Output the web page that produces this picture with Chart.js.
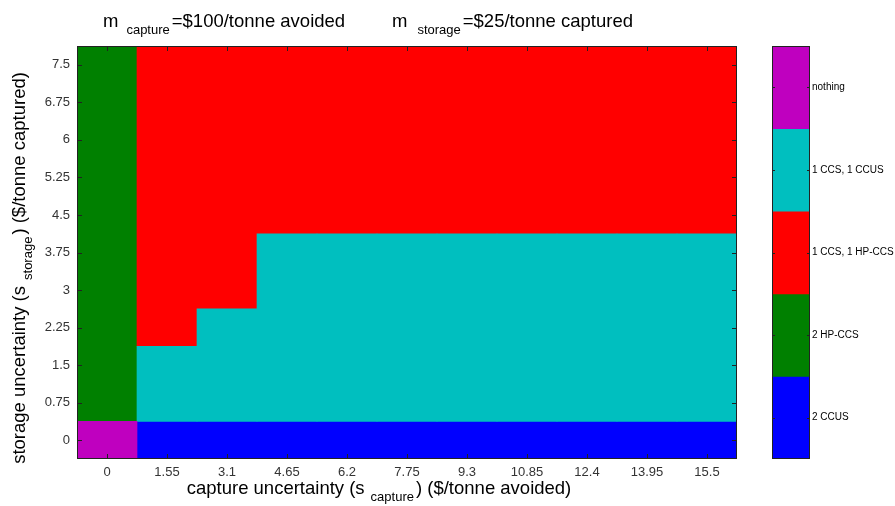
<!DOCTYPE html>
<html>
<head>
<meta charset="utf-8">
<script src="https://cdn.jsdelivr.net/npm/chart.js"></script>
<style>
body { margin: 0; background: #fff; }
#wrap { position: relative; width: 895px; height: 506px; }
#main-chart { position: absolute; left: 0; top: 0; }
#bar-chart { position: absolute; left: 760px; top: 0; }
</style>
</head>
<body>
<div id="wrap">
    <canvas id="main-chart" width="895" height="506"></canvas>
    <canvas id="bar-chart" width="135" height="506"></canvas>
</div>
<script>
// Axis values
const captureValues = [0, 1.55, 3.1, 4.65, 6.2, 7.75, 9.3, 10.85, 12.4, 13.95, 15.5];
const storageValues = [0, 0.75, 1.5, 2.25, 3, 3.75, 4.5, 5.25, 6, 6.75, 7.5];

// Options shown in the colour bar (top to bottom)
const optionNames = ['nothing', '1 CCS, 1 CCUS', '1 CCS, 1 HP-CCS', '2 HP-CCS', '2 CCUS'];
const optionColors = ['#bf00bf', '#00bfbf', '#ff0000', '#008000', '#0000ff'];

// Best option per cell: one row per storage value (from 0 up), one column per capture value
const bestOption = [
    [0, 4, 4, 4, 4, 4, 4, 4, 4, 4, 4],
    [3, 1, 1, 1, 1, 1, 1, 1, 1, 1, 1],
    [3, 1, 1, 1, 1, 1, 1, 1, 1, 1, 1],
    [3, 2, 1, 1, 1, 1, 1, 1, 1, 1, 1],
    [3, 2, 2, 1, 1, 1, 1, 1, 1, 1, 1],
    [3, 2, 2, 1, 1, 1, 1, 1, 1, 1, 1],
    [3, 2, 2, 2, 2, 2, 2, 2, 2, 2, 2],
    [3, 2, 2, 2, 2, 2, 2, 2, 2, 2, 2],
    [3, 2, 2, 2, 2, 2, 2, 2, 2, 2, 2],
    [3, 2, 2, 2, 2, 2, 2, 2, 2, 2, 2],
    [3, 2, 2, 2, 2, 2, 2, 2, 2, 2, 2]
];

const FONT = '"Liberation Sans", Arial, sans-serif';
Chart.defaults.font.family = FONT;

// Draw a run of text pieces with sub-scripts: [text, size, shiftDown, gapAfter]
function drawRich(ctx, x, y, parts) {
    let cx = x;
    parts.forEach(([text, size, dy, gap]) => {
        ctx.font = `${size}px ${FONT}`;
        ctx.fillText(text, cx, y + dy);
        cx += ctx.measureText(text).width + (gap || 0);
    });
    return cx - x;
}

function richWidth(ctx, parts) {
    let w = 0;
    parts.forEach(([text, size, dy, gap]) => {
        ctx.font = `${size}px ${FONT}`;
        w += ctx.measureText(text).width + (gap || 0);
    });
    return w;
}

// Box round the plot and short ticks pointing inwards
function framePlugin(tickX, tickLen) {
    return {
        id: 'frame',
        afterDatasetsDraw(chart) {
            const { ctx, chartArea: a, scales } = chart;
            ctx.save();
            ctx.strokeStyle = '#222';
            ctx.lineWidth = 1;
            ctx.beginPath();
            if (tickX) {
                scales.x.ticks.forEach((t, i) => {
                    const px = Math.round(scales.x.getPixelForTick(i)) + 0.5;
                    ctx.moveTo(px, a.bottom); ctx.lineTo(px, a.bottom - tickLen);
                    ctx.moveTo(px, a.top); ctx.lineTo(px, a.top + tickLen);
                });
            }
            scales.y.ticks.forEach((t, i) => {
                const py = Math.round(scales.y.getPixelForTick(i)) + 0.5;
                ctx.moveTo(a.left, py); ctx.lineTo(a.left + tickLen, py);
                ctx.moveTo(a.right, py); ctx.lineTo(a.right - tickLen, py);
            });
            ctx.stroke();
            ctx.strokeRect(a.left + 0.5, a.top + 0.5, a.width - 1, a.height - 1);
            ctx.restore();
        }
    };
}

// Title and axis titles with sub-scripts
const labelsPlugin = {
    id: 'labels',
    afterDraw(chart) {
        const ctx = chart.ctx;
        ctx.save();
        ctx.fillStyle = '#000';
        ctx.textBaseline = 'alphabetic';
        ctx.textAlign = 'left';

        drawRich(ctx, 103, 27, [['m', 18.5, 0, 8], ['capture', 13, 7, 2], ['=$100/tonne avoided', 18.5, 0]]);
        drawRich(ctx, 392, 27, [['m', 18.5, 0, 10], ['storage', 13, 7, 2], ['=$25/tonne captured', 18.5, 0]]);

        const xParts = [['capture uncertainty (s', 18.5, 0, 6], ['capture', 13, 7, 2], [') ($/tonne avoided)', 18.5, 0]];
        drawRich(ctx, 379 - richWidth(ctx, xParts) / 2, 494, xParts);

        const yParts = [['storage uncertainty (s', 18.5, 0, 6], ['storage', 13, 7, 2], [') ($/tonne captured)', 18.5, 0]];
        ctx.translate(25, 268);
        ctx.rotate(-Math.PI / 2);
        drawRich(ctx, -richWidth(ctx, yParts) / 2, 0, yParts);
        ctx.restore();
    }
};

// One floating bar per option and column, spanning its run of cells
const half = (storageValues[1] - storageValues[0]) / 2;
const mapDatasets = optionNames.map((name, k) => ({
    label: name,
    data: captureValues.map((c, j) => {
        const rows = bestOption.map((row, r) => row[j] === k ? r : -1).filter(r => r >= 0);
        if (!rows.length) return null;
        return [storageValues[Math.min(...rows)] - half, storageValues[Math.max(...rows)] + half];
    }),
    backgroundColor: optionColors[k],
    borderWidth: 0,
    grouped: false,
    barPercentage: 1,
    categoryPercentage: 1
}));

new Chart(document.getElementById('main-chart'), {
    type: 'bar',
    data: { labels: captureValues.map(String), datasets: mapDatasets },
    options: {
        responsive: false,
        animation: false,
        layout: { padding: { top: 46, right: 158, bottom: 0, left: 0 } },
        plugins: { legend: { display: false }, tooltip: { enabled: false } },
        scales: {
            x: {
                grid: { display: false, drawTicks: false },
                border: { display: false },
                ticks: { color: '#333', font: { size: 13 }, padding: 6, maxRotation: 0, autoSkip: false },
                afterFit: s => { s.height = 47; }
            },
            y: {
                min: storageValues[0] - half,
                max: storageValues[storageValues.length - 1] + half,
                grid: { display: false, drawTicks: false },
                border: { display: false },
                afterBuildTicks: s => { s.ticks = storageValues.map(v => ({ value: v })); },
                ticks: { color: '#333', font: { size: 13 }, padding: 7, callback: v => String(v) },
                afterFit: s => { s.width = 77; }
            }
        }
    },
    plugins: [framePlugin(true, 5), labelsPlugin]
});

// Colour bar: level n (top) .. 1 (bottom)
const levels = optionNames.map((n, k) => optionNames.length - k);
new Chart(document.getElementById('bar-chart'), {
    type: 'bar',
    data: {
        labels: [''],
        datasets: optionNames.map((name, k) => ({
            label: name,
            data: [[levels[k] - 0.5, levels[k] + 0.5]],
            backgroundColor: optionColors[k],
            borderWidth: 0,
            grouped: false,
            barPercentage: 1,
            categoryPercentage: 1
        }))
    },
    options: {
        responsive: false,
        animation: false,
        layout: { padding: { top: 46, right: 0, bottom: 47, left: 12 } },
        plugins: { legend: { display: false }, tooltip: { enabled: false } },
        scales: {
            x: { display: false },
            y: {
                position: 'right',
                min: 0.5,
                max: optionNames.length + 0.5,
                grid: { display: false, drawTicks: false },
                border: { display: false },
                afterBuildTicks: s => { s.ticks = levels.map(v => ({ value: v })); },
                ticks: { color: '#000', font: { size: 10 }, padding: 2, callback: v => optionNames[optionNames.length - v] },
                afterFit: s => { s.width = 85; }
            }
        }
    },
    plugins: [framePlugin(false, 3)]
});
</script>
</body>
</html>
